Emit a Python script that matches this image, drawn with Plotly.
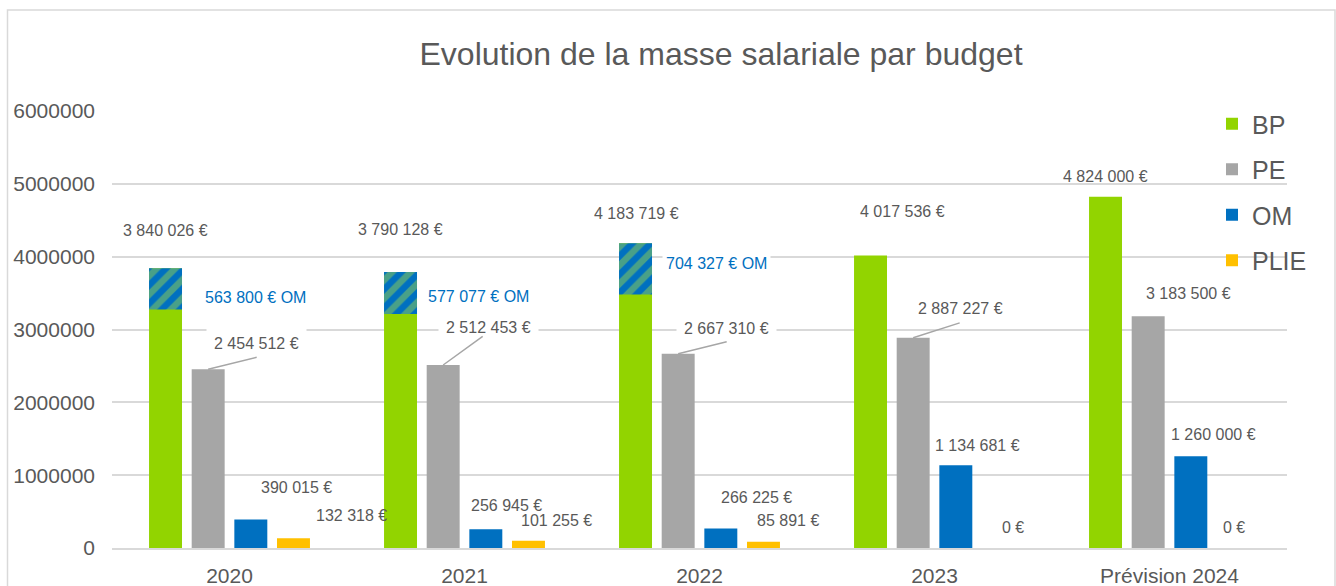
import plotly.graph_objects as go

categories = ["2020", "2021", "2022", "2023", "Prévision 2024"]
bp = [3840026, 3790128, 4183719, 4017536, 4824000]
pe = [2454512, 2512453, 2667310, 2887227, 3183500]
om = [390015, 256945, 266225, 1134681, 1260000]
plie = [132318, 101255, 85891, 0, 0]
om_in_bp = [563800, 577077, 704327, None, None]
y_ticks = [0, 1000000, 2000000, 3000000, 4000000, 5000000, 6000000]

GREEN = "#92D400"
GREY = "#A6A6A6"
BLUE = "#0070C0"
GOLD = "#FFC000"
TXT = "#595959"
GRID = "#D9D9D9"
FONT = "Liberation Sans, Arial, sans-serif"

L, R, T, B = 112, 49, 111, 38
W, H = 1336, 586
plot_w = W - L - R
plot_h = H - T - B

def eur(v):
    return f"{v:,}".replace(",", " ") + " €"

fig = go.Figure()
series = [("BP", bp, GREEN), ("PE", pe, GREY), ("OM", om, BLUE), ("PLIE", plie, GOLD)]
for name, vals, col in series:
    fig.add_trace(go.Bar(
        name=name, x=categories, y=vals, offsetgroup=name, legendgroup=name,
        marker=dict(color=col, line=dict(width=0)), hoverinfo="skip",
    ))

base_vals = [b - o if o is not None else None for b, o in zip(bp, om_in_bp)]
fig.add_trace(go.Bar(
    name="OM (BP)", x=categories, y=om_in_bp, base=base_vals, offsetgroup="BP",
    showlegend=False, hoverinfo="skip", legendgroup="hatch",
    marker=dict(color=BLUE, line=dict(width=0),
                pattern=dict(shape="/", bgcolor=BLUE, fgcolor="#92D050",
                             size=13, solidity=0.5, fillmode="overlay")),
))

BARGAP = 0.274
GROUPGAP = 0.227
cat_w = plot_w / len(categories)
slot = cat_w * (1 - BARGAP) / 4
bar_off = [(-1.5 + i) * slot for i in range(4)]

# label offsets (pixels) from bar top centre: dx, dy (dy positive = down)
pos = {
    "BP": [(0, -38), (0, -42), (1, -30), (32, -44), (0, -20)],
    "PE": [(48, -26), (45, -38), (48, -25), (47, -29), (40, -23)],
    "OM": [(46, -32), (21, -24), (36, -31), (22, -20), (23, -22)],
    "PLIE": [(58, -23), (28, -20), (25, -21), (15, -21), (1, -21)],
}
om_pos = [(90, 29), (78, 25), (81, 20)]
# leader line tails for PE labels (pixels from bar top centre), None = no leader
pe_leader = [(49, -12), (40, -29), (49, -12), (47, -15), None]

ann = []
for si, (name, vals, col) in enumerate(series):
    for ci in range(len(categories)):
        dx, dy = pos[name][ci]
        is_pe = name == "PE"
        ann.append(dict(x=ci, y=vals[ci], xref="x", yref="y",
                        xshift=bar_off[si] + dx, yshift=-dy,
                        text=eur(vals[ci]), showarrow=False,
                        xanchor="center", yanchor="middle",
                        bgcolor="white" if is_pe else "rgba(0,0,0,0)",
                        borderpad=7 if is_pe else 1,
                        font=dict(family=FONT, size=16, color=TXT)))
for ci, tail in enumerate(pe_leader):
    if tail is None:
        continue
    ann.append(dict(x=ci, y=pe[ci], xref="x", yref="y", xshift=bar_off[1],
                    text="", showarrow=True, arrowhead=0, arrowwidth=1.5,
                    arrowcolor=GREY, ax=tail[0], ay=tail[1], standoff=0,
                    startstandoff=0, borderpad=0))
for ci, v in enumerate(om_in_bp):
    if v is None:
        continue
    dx, dy = om_pos[ci]
    ann.append(dict(x=ci, y=bp[ci], xref="x", yref="y",
                    xshift=bar_off[0] + dx, yshift=-dy,
                    text=eur(v) + " OM", showarrow=False,
                    xanchor="center", yanchor="middle", bgcolor="white", borderpad=3,
                    font=dict(family=FONT, size=16, color=BLUE)))

def px_x(p):
    return (p - L) / plot_w

def px_y(p):
    return (H - B - p) / plot_h

fig.update_layout(
    width=W, height=H,
    margin=dict(l=L, r=R, t=T, b=B, autoexpand=False),
    paper_bgcolor="white", plot_bgcolor="white",
    barmode="group", bargap=BARGAP, bargroupgap=GROUPGAP,
    font=dict(family=FONT, color=TXT),
    title=dict(text="Evolution de la masse salariale par budget",
               font=dict(family=FONT, size=32, color=TXT),
               x=721 / W, xref="container", xanchor="center",
               y=1 - 54 / H, yref="container", yanchor="middle"),
    legend=dict(x=px_x(1212), y=px_y(101), xanchor="left", yanchor="top",
                font=dict(family=FONT, size=25, color=TXT),
                bgcolor="rgba(0,0,0,0)", tracegroupgap=10, traceorder="grouped"),
    annotations=ann,
    shapes=[dict(type="rect", xref="paper", yref="paper",
                 x0=px_x(7.5), x1=px_x(1335), y0=px_y(595), y1=px_y(10),
                 line=dict(color=GRID, width=1.5), fillcolor="rgba(0,0,0,0)", layer="below")],
)
fig.update_xaxes(type="category", range=[-0.5, len(categories) - 0.5], autorange=False,
                 showline=True, linecolor=GRID, linewidth=1.5, showgrid=False,
                 ticks="", ticklabelstandoff=8,
                 tickfont=dict(family=FONT, size=21, color=TXT))
fig.update_yaxes(range=[0, 6000000], autorange=False, tickvals=y_ticks, tickformat="d",
                 showgrid=True, gridcolor=GRID, gridwidth=1.5, zeroline=False,
                 showline=False, ticks="", ticklabelstandoff=16,
                 tickfont=dict(family=FONT, size=21, color=TXT))

fig.write_html("out.html", config={"displayModeBar": False},
               post_script="document.body.style.margin='0';document.body.style.padding='0';")
